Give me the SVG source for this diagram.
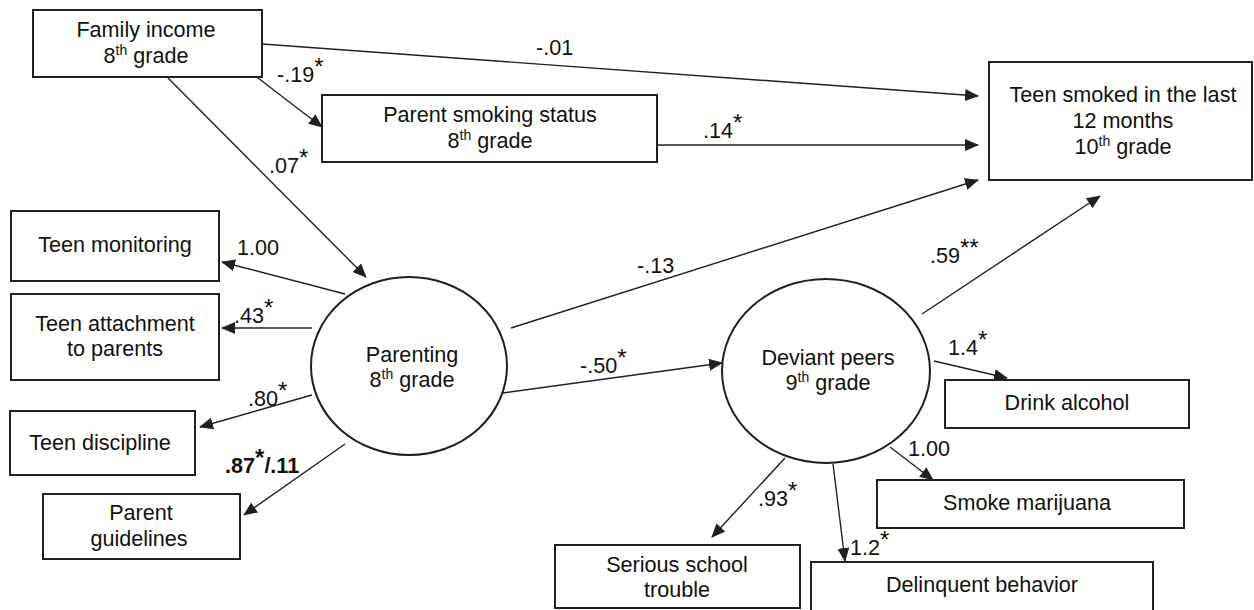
<svg xmlns="http://www.w3.org/2000/svg" width="1254" height="610" viewBox="0 0 1254 610">
<style>
.box{fill:#fff;stroke:#231f20;stroke-width:2}
.ell{fill:#fff;stroke:#231f20;stroke-width:2}
.t{font-family:"Liberation Sans",Arial,sans-serif;font-size:21.6px;fill:#111}
.c{text-anchor:middle}
.e{stroke:#231f20;stroke-width:1.4;fill:none;marker-end:url(#ah)}
.b{font-weight:bold}
.s{font-size:24px}
</style>
<defs>
<marker id="ah" markerUnits="userSpaceOnUse" markerWidth="14" markerHeight="12" refX="13" refY="6" orient="auto">
<path d="M0,0 L14,6 L0,12 z" fill="#231f20"/>
</marker>
</defs>
<rect width="1254" height="610" fill="#fff"/>
<g id="connectors">
<line class="e" x1="262" y1="44" x2="978" y2="96"/>
<line class="e" x1="258" y1="78" x2="322" y2="127"/>
<line class="e" x1="168" y1="78" x2="366" y2="277"/>
<line class="e" x1="657" y1="145" x2="978" y2="145"/>
<line class="e" x1="511" y1="328" x2="978" y2="180"/>
<line class="e" x1="922" y1="314" x2="1100" y2="196"/>
<line class="e" x1="345" y1="294" x2="222" y2="262"/>
<line class="e" x1="312" y1="328" x2="222" y2="328"/>
<line class="e" x1="312" y1="395" x2="200" y2="427"/>
<line class="e" x1="345" y1="444" x2="244" y2="515"/>
<line class="e" x1="503" y1="393" x2="722" y2="363"/>
<line class="e" x1="934" y1="361" x2="1007" y2="378"/>
<line class="e" x1="890" y1="447" x2="933" y2="480"/>
<line class="e" x1="833" y1="464" x2="845" y2="561"/>
<line class="e" x1="785" y1="458" x2="712" y2="537"/>
<g class="t">
<text x="277" y="82">-.19<tspan class="s" dy="-7">*</tspan></text>
<text x="269" y="173">.07<tspan class="s" dy="-7">*</tspan></text>
<text x="536" y="55">-.01</text>
<text x="703" y="138">.14<tspan class="s" dy="-7">*</tspan></text>
<text x="237" y="255">1.00</text>
<text x="234" y="323">.43<tspan class="s" dy="-7">*</tspan></text>
<text x="248" y="406">.80<tspan class="s" dy="-7">*</tspan></text>
<text class="b" x="225" y="473">.87<tspan class="s" dy="-7">*</tspan><tspan dy="7">/.11</tspan></text>
<text x="637" y="273">-.13</text>
<text x="580" y="373">-.50<tspan class="s" dy="-7">*</tspan></text>
<text x="930" y="263">.59<tspan class="s" dy="-7">**</tspan></text>
<text x="948" y="355">1.4<tspan class="s" dy="-7">*</tspan></text>
<text x="908" y="456">1.00</text>
<text x="758" y="506">.93<tspan class="s" dy="-7">*</tspan></text>
<text x="850" y="555">1.2<tspan class="s" dy="-7">*</tspan></text>
</g>
</g>
<g id="family-income">
<rect class="box" x="33" y="10" width="229" height="67"/>
<text class="t c" x="146" y="37">Family income</text>
<text class="t c" x="146" y="63">8<tspan font-size="14" dy="-8">th</tspan><tspan dy="8"> grade</tspan></text>
</g>
<g id="parent-smoking">
<rect class="box" x="322" y="95" width="335" height="67"/>
<text class="t c" x="490" y="122">Parent smoking status</text>
<text class="t c" x="490" y="148">8<tspan font-size="14" dy="-8">th</tspan><tspan dy="8"> grade</tspan></text>
</g>
<g id="teen-smoked">
<rect class="box" x="989" y="62" width="263" height="118"/>
<text class="t c" x="1123" y="102">Teen smoked in the last</text>
<text class="t c" x="1123" y="128">12 months</text>
<text class="t c" x="1123" y="154">10<tspan font-size="14" dy="-8">th</tspan><tspan dy="8"> grade</tspan></text>
</g>
<g id="teen-monitoring">
<rect class="box" x="11" y="211" width="208" height="70"/>
<text class="t c" x="115" y="252">Teen monitoring</text>
</g>
<g id="teen-attachment">
<rect class="box" x="11" y="294" width="208" height="86"/>
<text class="t c" x="115" y="331">Teen attachment</text>
<text class="t c" x="115" y="356">to parents</text>
</g>
<g id="teen-discipline">
<rect class="box" x="10" y="411" width="185" height="64"/>
<text class="t c" x="100" y="450">Teen discipline</text>
</g>
<g id="parent-guidelines">
<rect class="box" x="43" y="494" width="197" height="65"/>
<text class="t c" x="141" y="520">Parent</text>
<text class="t c" x="139" y="546">guidelines</text>
</g>
<g id="parenting">
<ellipse class="ell" cx="409" cy="366" rx="98" ry="89"/>
<text class="t c" x="412" y="362">Parenting</text>
<text class="t c" x="412" y="387">8<tspan font-size="14" dy="-8">th</tspan><tspan dy="8"> grade</tspan></text>
</g>
<g id="deviant-peers">
<ellipse class="ell" cx="826" cy="371" rx="104" ry="92"/>
<text class="t c" x="828" y="365">Deviant peers</text>
<text class="t c" x="828" y="390">9<tspan font-size="14" dy="-8">th</tspan><tspan dy="8"> grade</tspan></text>
</g>
<g id="drink-alcohol">
<rect class="box" x="945" y="380" width="244" height="48"/>
<text class="t c" x="1067" y="410">Drink alcohol</text>
</g>
<g id="smoke-marijuana">
<rect class="box" x="877" y="480" width="307" height="48"/>
<text class="t c" x="1027" y="510">Smoke marijuana</text>
</g>
<g id="serious-school">
<rect class="box" x="555" y="545" width="245" height="63"/>
<text class="t c" x="677" y="572">Serious school</text>
<text class="t c" x="677" y="597">trouble</text>
</g>
<g id="delinquent">
<rect class="box" x="811" y="562" width="342" height="52"/>
<text class="t c" x="982" y="592">Delinquent behavior</text>
</g>
</svg>
